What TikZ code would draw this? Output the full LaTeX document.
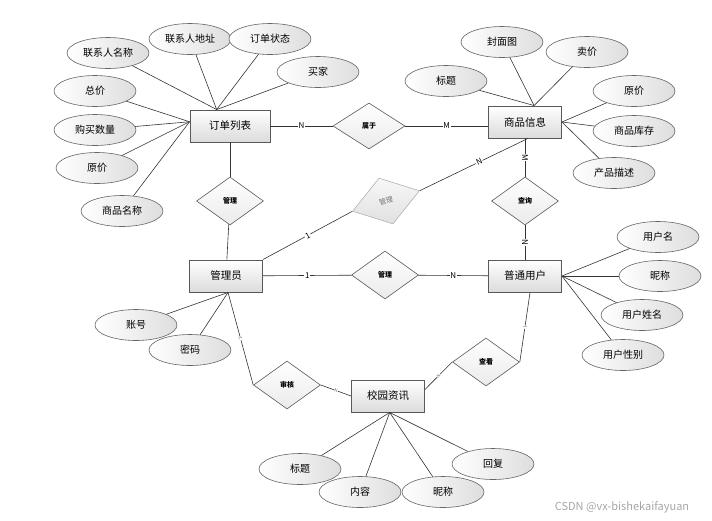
\documentclass[tikz,border=0pt]{standalone}
\usepackage{fontspec}
\setmainfont{Noto Sans CJK SC}
\usepackage{xcolor}
\usetikzlibrary{shapes.geometric}
\tikzstyle{entity} = [rectangle, minimum width=73pt, minimum height=32pt, inner sep=1pt, draw=black!65, line width=0.9pt, top color=white, bottom color=black!14, font=\fontsize{10.5}{12}\selectfont]
\tikzstyle{attribute} = [ellipse, minimum width=82pt, minimum height=31pt, inner sep=0pt, draw=black!60, line width=0.6pt, left color=white, right color=black!13, font=\fontsize{10}{11}\selectfont]
\tikzstyle{relation} = [diamond, minimum width=67pt, minimum height=48pt, inner sep=0pt, draw=black!65, line width=0.6pt, top color=white, bottom color=black!8, font=\fontsize{7}{8}\selectfont\bfseries]
\tikzstyle{link} = [draw=black!80, line width=0.6pt]
\tikzstyle{card} = [fill=white, inner sep=0.6pt, font=\fontsize{8}{9}\selectfont]
\tikzstyle{smallcard} = [fill=white, inner sep=0.3pt, sloped, text=black!60, font=\fontsize{4.5}{5}\selectfont]

\begin{document}
\begin{tikzpicture}[x=1pt, y=-1pt]
    \useasboundingbox (0,0) rectangle (712,520);
    % entities
    \node (order) [entity, minimum width=80pt] at (230,126) {订单列表};
    \node (goods) [entity] at (525,122) {商品信息};
    \node (admin) [entity] at (226,276) {管理员};
    \node (user) [entity] at (525,276) {普通用户};
    \node (news) [entity] at (388,396) {校园资讯};
    % relations
    \node (belong) [relation, minimum width=72pt, minimum height=46pt] at (369,126) {属于};
    \node (manage1) [relation] at (230,201) {管理};
    \node (query) [relation] at (525,201) {查询};
    \node (manage2) [relation] at (385,275) {管理};
    \node (manage3) [relation, rotate=17, minimum width=70pt, draw=black!30, top color=black!3, bottom color=black!12, text=black!55, font=\fontsize{7}{8}\selectfont] at (386,201) {管理};
    \node (audit) [relation] at (287,385) {审核};
    \node (view) [relation] at (486,362) {查看};
    % attributes of the order list
    \node (contact) [attribute] at (108,53) {联系人名称};
    \node (addr) [attribute] at (190,39) {联系人地址};
    \node (ostate) [attribute] at (270,39) {订单状态};
    \node (buyer) [attribute] at (318,72) {买家};
    \node (total) [attribute] at (95,91) {总价};
    \node (amount) [attribute] at (95,130) {购买数量};
    \node (oprice) [attribute] at (97,168) {原价};
    \node (gname) [attribute] at (122,211) {商品名称};
    % attributes of the goods
    \node (cover) [attribute] at (502,42) {封面图};
    \node (sprice) [attribute] at (587,52) {卖价};
    \node (gtitle) [attribute] at (446,81) {标题};
    \node (gprice) [attribute] at (634,91) {原价};
    \node (stock) [attribute] at (634,131) {商品库存};
    \node (desc) [attribute] at (614,173) {产品描述};
    % attributes of the user
    \node (uname) [attribute] at (658,237) {用户名};
    \node (unick) [attribute] at (660,276) {昵称};
    \node (realname) [attribute] at (642,315) {用户姓名};
    \node (gender) [attribute] at (623,355) {用户性别};
    % attributes of the admin
    \node (account) [attribute] at (136,325) {账号};
    \node (passwd) [attribute] at (190,350) {密码};
    % attributes of the news
    \node (ntitle) [attribute] at (300,469) {标题};
    \node (content) [attribute] at (360,492) {内容};
    \node (nnick) [attribute] at (443,492) {昵称};
    \node (reply) [attribute] at (493,464) {回复};

    \foreach \a in {contact, addr, ostate, buyer}
        \draw [link] (\a) -- (order.129);
    \foreach \a in {total, amount, oprice, gname}
        \draw [link] (\a) -- (order.174);
    \foreach \a in {cover, sprice, gtitle}
        \draw [link] (\a) -- (goods.61);
    \foreach \a in {gprice, stock, desc}
        \draw [link] (\a) -- (goods.east);
    \foreach \a in {uname, unick, realname, gender}
        \draw [link] (\a) -- (user.east);
    \foreach \a in {account, passwd}
        \draw [link] (\a) -- (admin.-83);
    \foreach \a in {ntitle, content, nnick, reply}
        \draw [link] (\a) -- (news.-84);

    % relationships
    \draw [link] (order) -- node[card] {N} (belong);
    \draw [link] (belong.east) -- node[card] {M} (belong.east -| goods.west);
    \draw [link] (goods) -- node[card, rotate=-90] {M} (query);
    \draw [link] (query) -- node[card, rotate=-90] {N} (user);
    \draw [link] (order) -- (manage1);
    \draw [link] (manage1) -- (admin);
    \draw [link] (admin) -- node[card] {1} (manage2);
    \draw [link] (manage2) -- node[card] {N} (user);
    \draw [link] (admin.north east) -- node[card, sloped] {1} (manage3.west);
    \draw [link] (manage3.east) -- node[card, sloped, pos=0.55] {N} (goods.-80);
    \draw [link] (admin.-83) -- node[smallcard] {1} (audit.west);
    \draw [link] (audit.east) -- node[smallcard] {N} (news.west);
    \draw [link] (news.10) -- node[smallcard] {N} (view.west);
    \draw [link] (user.-73) -- node[smallcard] {1} (view.east);

    \node (mark) [text=black!35, font=\fontsize{11}{12}\selectfont] at (622,507) {CSDN @vx-bishekaifayuan};
\end{tikzpicture}
\end{document}
